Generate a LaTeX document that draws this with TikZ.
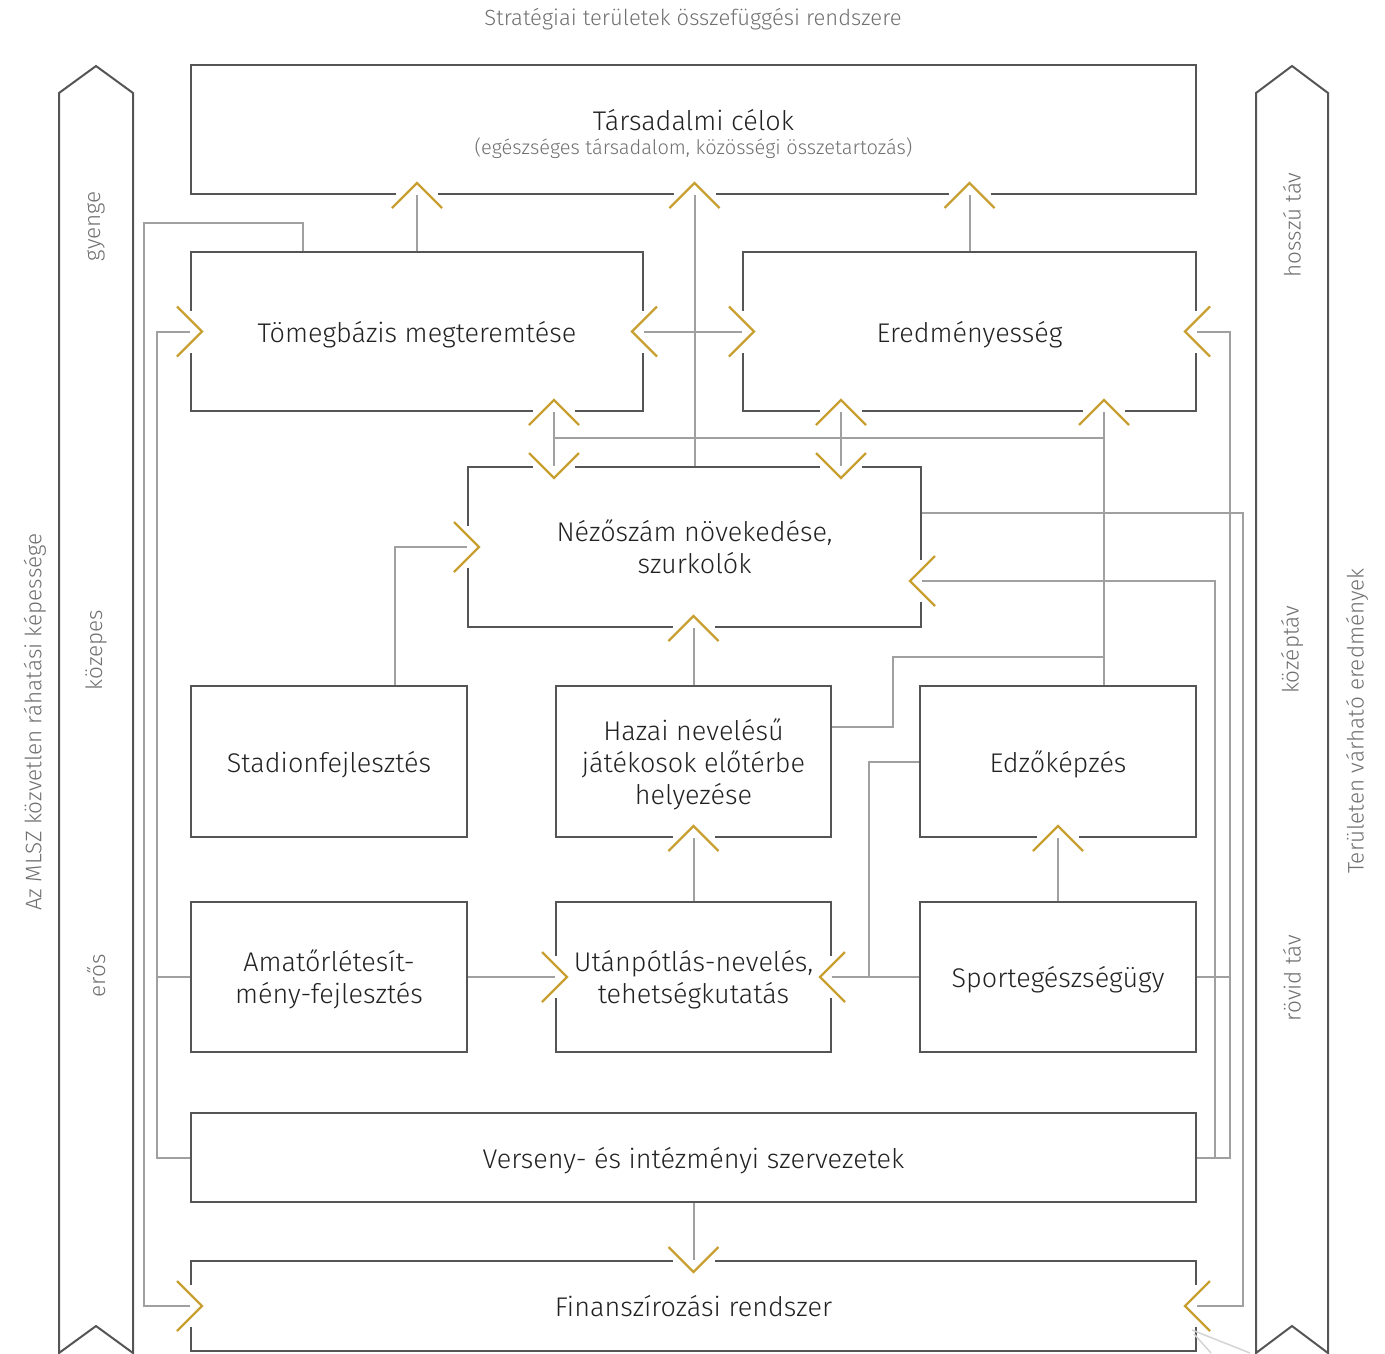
\documentclass[tikz,border=0pt]{standalone}
\usepackage{fontspec}
\IfFontExistsTF{Fira Sans Light}{\setmainfont{Fira Sans Light}}{\setmainfont{Fira Sans}}
\usetikzlibrary{calc}

\definecolor{boxline}{HTML}{555555}
\definecolor{connline}{HTML}{A0A0A0}
\definecolor{faintline}{HTML}{D4D4D4}
\definecolor{gold}{RGB}{200,160,50}
\definecolor{labeltext}{HTML}{222222}
\definecolor{softtext}{HTML}{707070}

\begin{document}
\begin{tikzpicture}[x=1pt,y=-1pt,
  box/.style={draw=boxline, line width=2pt, inner sep=0pt, align=center,
    text=labeltext, text depth=0pt, font=\fontsize{27}{32}\selectfont},
  conn/.style={draw=connline, line width=2pt},
  gapline/.style={draw=white, line width=4.5pt},
  chev/.style={draw=gold, line width=2.4pt},
  band/.style={draw=boxline, line width=2pt, line join=miter},
  bandlabel/.style={text=softtext, rotate=90, inner sep=0pt,
    font=\fontsize{22.5}{26}\selectfont},
  chevU/.pic={\path[gapline] (-21,0) -- (21,0); \path[chev] (-25,13) -- (0,-12) -- (25,13);},
  chevD/.pic={\path[gapline] (-21,0) -- (21,0); \path[chev] (-25,-13) -- (0,12) -- (25,-13);},
  chevR/.pic={\path[gapline] (0,-21) -- (0,21); \path[chev] (-13,-25) -- (12,0) -- (-13,25);},
  chevL/.pic={\path[gapline] (0,-21) -- (0,21); \path[chev] (13,-25) -- (-12,0) -- (13,25);}
]
\useasboundingbox (0,0) rectangle (1385,1353);

% heading
\node[text=softtext, font=\fontsize{22}{26}\selectfont] (title) at (693,19)
  {Stratégiai területek összefüggési rendszere};

% side bands
\draw[band] (59,1353) -- (59,93) -- (96,66) -- (133,93) -- (133,1353) -- (96,1326) -- cycle;
\draw[band] (1256,1353) -- (1256,93) -- (1292,66) -- (1328,93) -- (1328,1353) -- (1292,1326) -- cycle;

\node[bandlabel] (lgy) at (96,226) {gyenge};
\node[bandlabel] (lko) at (96,650) {közepes};
\node[bandlabel] (ler) at (96,976) {erős};
\node[bandlabel] (rho) at (1292,225) {hosszú táv};
\node[bandlabel] (rko) at (1292,650) {középtáv};
\node[bandlabel] (rro) at (1292,978) {rövid táv};
\node[bandlabel] (lout) at (35,722) {Az MLSZ közvetlen ráhatási képessége};
\node[bandlabel] (rout) at (1357,721) {Területen várható eredmények};

% boxes
\node[box, minimum width=1005, minimum height=129] (tarsad) at (693.5,129.5) {};
\node[align=center, text=labeltext, inner sep=0pt, font=\fontsize{27}{32}\selectfont] (tarsadtxt) at (693.5,134)
  {Társadalmi célok\\[-8pt]{\fontsize{20}{24}\selectfont\color{softtext}(egészséges társadalom, közösségi összetartozás)}};
\node[box, minimum width=452, minimum height=159] (tomeg) at (417,331.5) {Tömegbázis megteremtése};
\node[box, minimum width=453, minimum height=159] (eredm) at (969.5,331.5) {Eredményesség};
\node[box, minimum width=453, minimum height=160] (nezo) at (694.5,547) {Nézőszám növekedése,\\szurkolók};
\node[box, minimum width=276, minimum height=151] (stadion) at (329,761.5) {Stadionfejlesztés};
\node[box, minimum width=275, minimum height=151] (hazai) at (693.5,761.5) {Hazai nevelésű\\játékosok előtérbe\\helyezése};
\node[box, minimum width=276, minimum height=151] (edzo) at (1058,761.5) {Edzőképzés};
\node[box, minimum width=276, minimum height=150] (amator) at (329,977) {Amatőrlétesít-\\mény-fejlesztés};
\node[box, minimum width=275, minimum height=150] (utan) at (693.5,977) {Utánpótlás-nevelés,\\tehetségkutatás};
\node[box, minimum width=276, minimum height=150] (sport) at (1058,977) {Sportegészségügy};
\node[box, minimum width=1005, minimum height=89] (verseny) at (693.5,1157.5) {Verseny- és intézményi szervezetek};
\node[box, minimum width=1005, minimum height=90] (finansz) at (693.5,1306) {Finanszírozási rendszer};

% routing columns and junctions
\coordinate (lx1) at (144,0);
\coordinate (lx2) at (157,0);
\coordinate (rx1) at (1215,0);
\coordinate (rx2) at (1230,0);
\coordinate (rx3) at (1243,0);
\coordinate (jA) at (554,438);
\coordinate (jB) at (841,438);
\coordinate (jC) at (1104,438);
\coordinate (nezoIn) at ($(nezo.east)+(0,34)$);
\coordinate (nezoOut) at ($(nezo.east)+(0,-34)$);
\coordinate (tomegTop) at ($(tomeg.north west)+(113,0)$);
\coordinate (stadionTop) at ($(stadion.north west)+(205,0)$);
\coordinate (edzoTop) at (jC |- edzo.north);
\coordinate (hazaiOut) at ($(hazai.east)+(0,-34.5)$);

% arrow heads (open chevrons across the box edges)
\pic at (tomeg.north |- tarsad.south) {chevU};
\pic at (nezo.north |- tarsad.south) {chevU};
\pic at (eredm.north |- tarsad.south) {chevU};
\pic at (tomeg.east) {chevL};
\pic at (eredm.west) {chevR};
\pic at (tomeg.west) {chevR};
\pic at (eredm.east) {chevL};
\pic at (jA |- tomeg.south) {chevU};
\pic at (jA |- nezo.north) {chevD};
\pic at (jB |- eredm.south) {chevU};
\pic at (jB |- nezo.north) {chevD};
\pic at (jC |- eredm.south) {chevU};
\pic at (nezo.west) {chevR};
\pic at (nezoIn) {chevL};
\pic at (hazai.north |- nezo.south) {chevU};
\pic at (hazai.south) {chevU};
\pic at (edzo.south) {chevU};
\pic at (utan.west) {chevR};
\pic at (utan.east) {chevL};
\pic at (finansz.north) {chevD};
\pic at (finansz.west) {chevR};
\pic at (finansz.east) {chevL};

% connectors
\draw[conn] (tomeg.north) -- (tomeg.north |- tarsad.south);
\draw[conn] (nezo.north) -- (nezo.north |- tarsad.south);
\draw[conn] (eredm.north) -- (eredm.north |- tarsad.south);
\draw[conn] (tomeg.east) -- (eredm.west);

\draw[conn] (tomegTop) |- (lx1 |- 0,223) -- (lx1 |- finansz.west) -- (finansz.west);
\draw[conn] (verseny.west) -| (lx2 |- tomeg.west) -- (tomeg.west);
\draw[conn] (amator.west) -- (lx2 |- amator.west);

\draw[conn] (verseny.east) -| (rx2 |- eredm.east) -- (eredm.east);
\draw[conn] (verseny.east) -| (rx1 |- nezoIn) -- (nezoIn);
\draw[conn] (sport.east) -- (rx2 |- sport.east);
\draw[conn] (nezoOut) -| (rx3 |- finansz.east) -- (finansz.east);

\draw[conn] (jA |- tomeg.south) -- (jA |- nezo.north);
\draw[conn] (jB |- eredm.south) -- (jB |- nezo.north);
\draw[conn] (jA) -- (jC);
\draw[conn] (edzoTop) -- (jC |- eredm.south);
\draw[conn] (hazaiOut) -| (893,657) -- (jC |- 0,657);

\draw[conn] (stadionTop) |- (nezo.west);
\draw[conn] (hazai.north) -- (hazai.north |- nezo.south);
\draw[conn] (utan.north) -- (hazai.south);
\draw[conn] (sport.north) -- (edzo.south);
\draw[conn] (amator.east) -- (utan.west);
\draw[conn] (sport.west) -- (utan.east);
\draw[conn] (edzo.west) -| (869,0 |- sport.west);
\draw[conn] (verseny.south) -- (finansz.north);

% faint strokes at the lower right corner
\draw[faintline, line width=1.5pt] (1192,1330) -- (1250,1353);
\draw[faintline, line width=1.5pt] (1194,1334) -- (1211,1353);
\end{tikzpicture}
\end{document}
